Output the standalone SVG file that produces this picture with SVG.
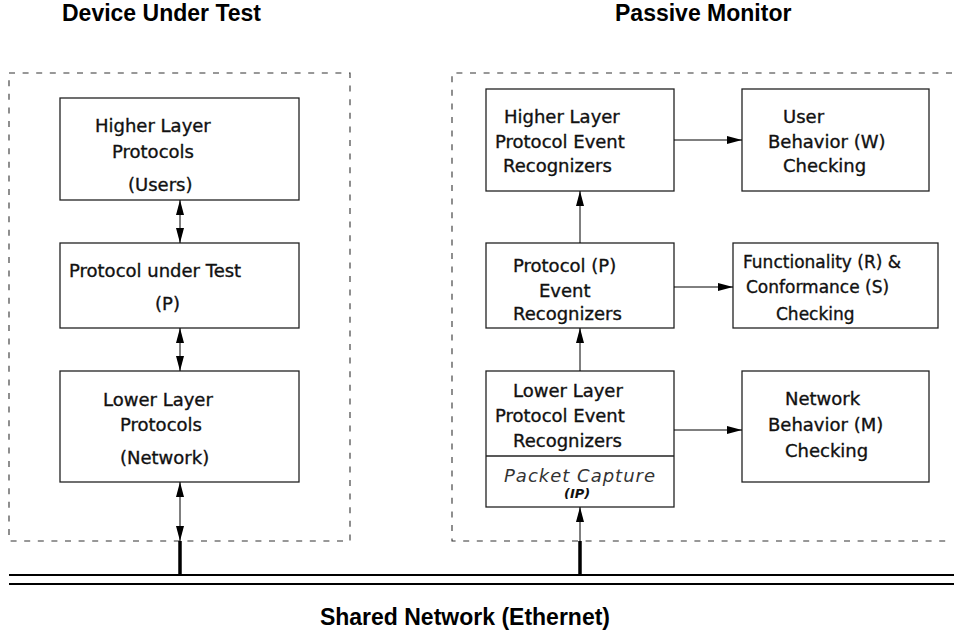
<svg xmlns="http://www.w3.org/2000/svg" width="954" height="634" viewBox="0 0 954 634">
<style>
.box{fill:#fff;stroke:#222;stroke-width:1.3}
.dash{fill:none;stroke:#333;stroke-width:1.1;stroke-dasharray:6 7.6}
.t{font-family:"DejaVu Sans","Liberation Sans",sans-serif;font-size:18px;fill:#111;stroke:#111;stroke-width:0.35}
.ts{font-family:"DejaVu Sans","Liberation Sans",sans-serif;font-size:17px;fill:#111;stroke:#111;stroke-width:0.35}
.title{font-family:"Liberation Sans",Arial,sans-serif;font-size:23px;font-weight:bold;fill:#000}
.pc{font-family:"DejaVu Sans","Liberation Sans",sans-serif;font-size:18px;font-style:italic;fill:#333;letter-spacing:1px}
.ip{font-family:"DejaVu Sans","Liberation Sans",sans-serif;font-size:13px;font-style:italic;font-weight:bold;fill:#111}
.ln{stroke:#000;stroke-width:1;fill:none}
.thick{stroke:#000;stroke-width:3.5;fill:none}
.net{stroke:#000;stroke-width:2;fill:none}
</style>
<defs>
<marker id="ah" markerUnits="userSpaceOnUse" markerWidth="15" markerHeight="8" refX="15" refY="4" orient="auto-start-reverse" viewBox="0 0 15 8">
<path d="M0,0 L15,4 L0,8 z" fill="#000"/>
</marker>
</defs>

<g id="titles">
<text class="title" x="62" y="21">Device Under Test</text>
<text class="title" x="615" y="21">Passive Monitor</text>
</g>

<g id="dut-boundary"><rect class="dash" x="9" y="73" width="341" height="468"/></g>
<g id="monitor-boundary"><path class="dash" d="M952,73 H452 V541 H952"/></g>

<g id="dut-higher">
<rect class="box" x="60" y="98" width="239" height="102"/>
<text class="t" x="95" y="132">Higher Layer</text>
<text class="t" x="112" y="158">Protocols</text>
<text class="t" x="128" y="191">(Users)</text>
</g>

<g id="dut-protocol">
<rect class="box" x="60" y="243" width="239" height="85"/>
<text class="t" x="69" y="277">Protocol under Test</text>
<text class="t" x="155" y="310">(P)</text>
</g>

<g id="dut-lower">
<rect class="box" x="60" y="371" width="239" height="111"/>
<text class="t" x="103" y="406">Lower Layer</text>
<text class="t" x="120" y="431">Protocols</text>
<text class="t" x="120" y="464">(Network)</text>
</g>

<g id="mon-higher">
<rect class="box" x="486" y="89" width="188" height="102"/>
<text class="t" x="504" y="123">Higher Layer</text>
<text class="t" x="495" y="148">Protocol Event</text>
<text class="t" x="503" y="172">Recognizers</text>
</g>

<g id="user-check">
<rect class="box" x="742" y="89" width="187" height="102"/>
<text class="t" x="783" y="123">User</text>
<text class="t" x="768" y="148">Behavior (W)</text>
<text class="t" x="783" y="172">Checking</text>
</g>

<g id="mon-protocol">
<rect class="box" x="486" y="243" width="188" height="85"/>
<text class="t" x="513" y="272">Protocol (P)</text>
<text class="t" x="539" y="297">Event</text>
<text class="t" x="513" y="320">Recognizers</text>
</g>

<g id="func-check">
<rect class="box" x="733" y="243" width="205" height="85"/>
<text class="ts" x="743" y="268">Functionality (R) &amp;</text>
<text class="ts" x="746" y="293">Conformance (S)</text>
<text class="ts" x="776" y="320">Checking</text>
</g>

<g id="mon-lower">
<rect class="box" x="486" y="371" width="188" height="136"/>
<line x1="486" y1="456" x2="674" y2="456" stroke="#222" stroke-width="1.3"/>
<text class="t" x="513" y="397">Lower Layer</text>
<text class="t" x="495" y="422">Protocol Event</text>
<text class="t" x="513" y="447">Recognizers</text>
<text class="pc" x="504" y="482">Packet Capture</text>
<text class="ip" x="564" y="498">(IP)</text>
</g>

<g id="net-check">
<rect class="box" x="742" y="371" width="187" height="111"/>
<text class="t" x="785" y="405">Network</text>
<text class="t" x="768" y="431">Behavior (M)</text>
<text class="t" x="785" y="457">Checking</text>
</g>

<g id="network">
<line class="net" x1="9" y1="575" x2="954" y2="575"/>
<line class="net" x1="9" y1="584" x2="954" y2="584"/>
<text class="title" x="610" y="625" text-anchor="end">Shared Network (Ethernet)</text>
</g>

<g id="connectors">
<line class="ln" x1="180" y1="200" x2="180" y2="243" marker-start="url(#ah)" marker-end="url(#ah)"/>
<line class="ln" x1="180" y1="328" x2="180" y2="371" marker-start="url(#ah)" marker-end="url(#ah)"/>
<line class="ln" x1="180" y1="482" x2="180" y2="541" marker-start="url(#ah)" marker-end="url(#ah)"/>
<line class="thick" x1="180" y1="541" x2="180" y2="575"/>
<line class="ln" x1="580" y1="243" x2="580" y2="191" marker-end="url(#ah)"/>
<line class="ln" x1="580" y1="371" x2="580" y2="328" marker-end="url(#ah)"/>
<line class="ln" x1="580" y1="541" x2="580" y2="507" marker-end="url(#ah)"/>
<line class="thick" x1="580" y1="541" x2="580" y2="575"/>
<line class="ln" x1="674" y1="140" x2="742" y2="140" marker-end="url(#ah)"/>
<line class="ln" x1="674" y1="287" x2="733" y2="287" marker-end="url(#ah)"/>
<line class="ln" x1="674" y1="430" x2="742" y2="430" marker-end="url(#ah)"/>
</g>
</svg>
